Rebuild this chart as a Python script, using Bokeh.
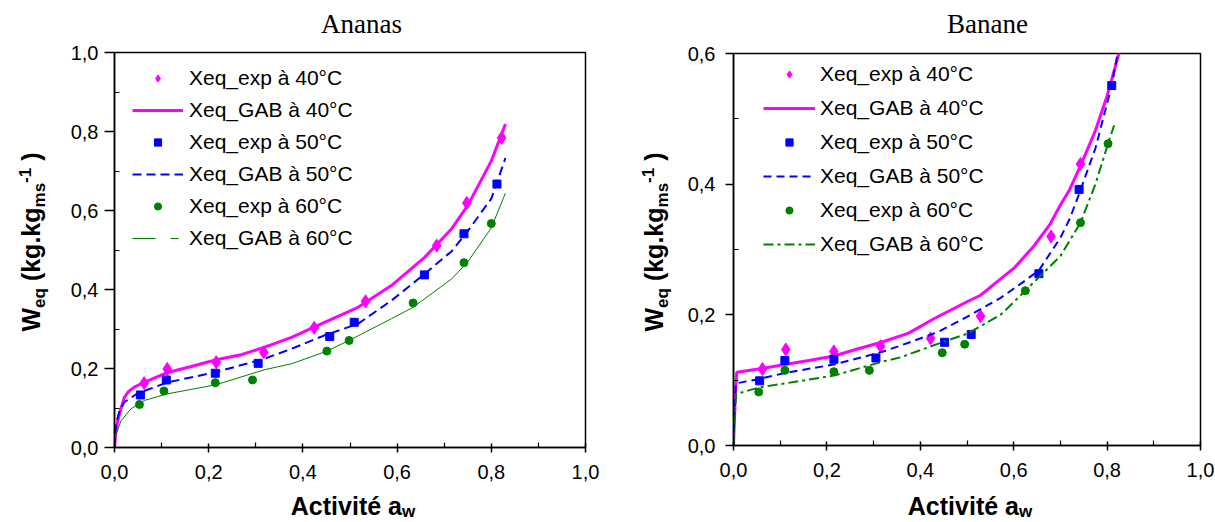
import math
from bokeh.plotting import figure
from bokeh.layouts import row, column
from bokeh.models import (Range1d, FixedTicker, CustomJSTickFormatter, Legend,
                          LegendItem, Label)
from bokeh.embed import file_html
from bokeh.resources import INLINE

# ---------------- data : Ananas ----------------
ana_aw_exp40 = [0.063, 0.112, 0.216, 0.317, 0.424, 0.533, 0.684, 0.748, 0.822]
ana_w_exp40 = [0.163, 0.199, 0.216, 0.241, 0.303, 0.370, 0.511, 0.619, 0.784]
ana_aw_exp50 = [0.055, 0.110, 0.214, 0.305, 0.457, 0.509, 0.658, 0.742, 0.812]
ana_w_exp50 = [0.133, 0.171, 0.188, 0.213, 0.281, 0.317, 0.437, 0.541, 0.667]
ana_aw_exp60 = [0.053, 0.105, 0.214, 0.293, 0.451, 0.498, 0.634, 0.742, 0.800]
ana_w_exp60 = [0.109, 0.143, 0.164, 0.171, 0.244, 0.271, 0.366, 0.468, 0.567]

ana_aw_gab40 = [0.0, 0.003, 0.007, 0.014, 0.021, 0.030, 0.042, 0.063, 0.113, 0.163, 0.216,
                0.269, 0.319, 0.376, 0.446, 0.517, 0.588, 0.659, 0.716, 0.750, 0.800, 0.830]
ana_w_gab40 = [0.0, 0.040, 0.068, 0.100, 0.127, 0.142, 0.153, 0.165, 0.190, 0.205, 0.222,
               0.235, 0.254, 0.279, 0.317, 0.355, 0.410, 0.482, 0.554, 0.613, 0.725, 0.819]
ana_aw_gab50 = [0.0, 0.003, 0.010, 0.021, 0.049, 0.113, 0.216, 0.319, 0.376, 0.446, 0.517,
                0.588, 0.659, 0.716, 0.750, 0.800, 0.830]
ana_w_gab50 = [0.0, 0.060, 0.090, 0.115, 0.137, 0.165, 0.191, 0.225, 0.250, 0.284, 0.313,
               0.372, 0.440, 0.497, 0.548, 0.630, 0.733]
ana_aw_gab60 = [0.0, 0.001, 0.014, 0.035, 0.063, 0.113, 0.216, 0.319, 0.376, 0.451, 0.498,
                0.588, 0.634, 0.659, 0.716, 0.750, 0.800, 0.830]
ana_w_gab60 = [0.0, 0.026, 0.068, 0.098, 0.119, 0.136, 0.159, 0.197, 0.212, 0.244, 0.271,
               0.326, 0.355, 0.377, 0.427, 0.470, 0.556, 0.644]

# ---------------- data : Banane ----------------
ban_aw_exp40 = [0.062, 0.112, 0.215, 0.315, 0.422, 0.529, 0.680, 0.743]
ban_w_exp40 = [0.117, 0.147, 0.144, 0.152, 0.164, 0.198, 0.320, 0.431]
ban_aw_exp50 = [0.056, 0.110, 0.215, 0.305, 0.452, 0.509, 0.654, 0.740, 0.810]
ban_w_exp50 = [0.099, 0.130, 0.132, 0.134, 0.158, 0.170, 0.263, 0.392, 0.551]
ban_aw_exp60 = [0.054, 0.110, 0.215, 0.291, 0.447, 0.495, 0.625, 0.743, 0.802]
ban_w_exp60 = [0.082, 0.115, 0.113, 0.115, 0.142, 0.155, 0.237, 0.341, 0.462]

ban_aw_gab40 = [0.0, 0.002, 0.004, 0.007, 0.061, 0.110, 0.161, 0.215, 0.267, 0.317, 0.375,
                0.429, 0.500, 0.529, 0.572, 0.600, 0.643, 0.678, 0.700, 0.720, 0.743, 0.775,
                0.800, 0.830]
ban_w_gab40 = [0.0, 0.040, 0.080, 0.112, 0.118, 0.124, 0.130, 0.137, 0.148, 0.158, 0.172,
               0.194, 0.220, 0.230, 0.255, 0.271, 0.305, 0.339, 0.368, 0.392, 0.428, 0.482,
               0.535, 0.612]
ban_aw_gab50 = [0.0, 0.002, 0.005, 0.056, 0.110, 0.215, 0.317, 0.358, 0.439, 0.500, 0.572,
                0.620, 0.654, 0.700, 0.720, 0.740, 0.775, 0.810, 0.825]
ban_w_gab50 = [0.0, 0.050, 0.095, 0.102, 0.111, 0.124, 0.143, 0.153, 0.174, 0.197, 0.226,
               0.250, 0.268, 0.318, 0.347, 0.385, 0.455, 0.551, 0.610]
ban_aw_gab60 = [0.0, 0.002, 0.006, 0.056, 0.110, 0.215, 0.317, 0.358, 0.439, 0.500, 0.572,
                0.625, 0.700, 0.743, 0.775, 0.802, 0.815]
ban_w_gab60 = [0.0, 0.040, 0.079, 0.089, 0.095, 0.107, 0.128, 0.135, 0.156, 0.171, 0.200,
               0.237, 0.290, 0.341, 0.400, 0.462, 0.490]

x_ticks = [0.0, 0.2, 0.4, 0.6, 0.8, 1.0]
x_minor = [0.1, 0.3, 0.5, 0.7, 0.9]
ana_y_ticks = [0.0, 0.2, 0.4, 0.6, 0.8, 1.0]
ana_y_minor = [0.1, 0.3, 0.5, 0.7, 0.9]
ban_y_ticks = [0.0, 0.2, 0.4, 0.6]
ban_y_minor = [0.1, 0.3, 0.5]

legend_labels = ["Xeq_exp à 40°C", "Xeq_GAB à 40°C", "Xeq_exp à 50°C",
                 "Xeq_GAB à 50°C", "Xeq_exp à 60°C", "Xeq_GAB à 60°C"]
titles = ["Ananas", "Banane"]

MAGENTA = "#FF00FF"
BLUE = "#0000FF"
GREEN = "#008000"
SANS = "Liberation Sans"
SERIF = "Liberation Serif"

# Arial/Liberation Sans Bold advance widths (per 1000 em)
BOLD_W = {'W': 944, 'e': 556, 'q': 611, ' ': 278, '(': 333, ')': 333, 'k': 556, 'g': 611,
          '.': 278, 'm': 889, 's': 556, '-': 333, '1': 556, 'A': 722, 'c': 556, 't': 333,
          'i': 278, 'v': 556, 'é': 556, 'a': 556, 'w': 778}


def tw(text, size):
    return sum(BOLD_W.get(ch, 556) for ch in text) * size / 1000.0


FMT = "return tick.toFixed(1).replace('.', ',');"
H_TOP = 40      # title strip height
H_BOT = 32      # x-label strip height
H_MAIN = 522 - H_TOP - H_BOT
BASE_K = 0.44   # correction: label anchor -> alphabetic baseline


def text_fig(w, h, fl=0, fr=0):
    """Blank figure whose data units are its own pixels (y downwards)."""
    f = figure(width=w, height=h, output_backend="svg", toolbar_location=None,
               x_range=Range1d(fl, w - fr), y_range=Range1d(h, 0),
               min_border_left=fl, min_border_right=fr, min_border_top=0,
               min_border_bottom=0, x_axis_location=None, y_axis_location=None,
               title=None)
    f.grid.visible = False
    f.outline_line_color = None
    f.background_fill_color = "white"
    f.border_fill_color = "white"
    return f


def add_label(f, x, y, text, size, bold=True, font=SANS, angle=0.0, align="left"):
    f.add_layout(Label(x=x, y=y, x_units="data", y_units="data", text=text,
                       text_font=font, text_font_size=f"{size}px",
                       text_font_style="bold" if bold else "normal",
                       text_color="black", angle=angle, text_align=align,
                       text_baseline="alphabetic"))


def make_plot(width, ymax, yt, ym, fl, fw, ft, fh, y_out, y_standoff):
    p = figure(width=width, height=H_MAIN, output_backend="svg", toolbar_location=None,
               x_range=Range1d(0, 1), y_range=Range1d(0, ymax), title=None,
               min_border_left=fl, min_border_right=width - fl - fw,
               min_border_top=ft, min_border_bottom=H_MAIN - ft - fh)
    p.grid.visible = False
    p.outline_line_color = "black"
    p.outline_line_width = 1.5
    p.background_fill_color = "white"
    p.border_fill_color = "white"
    xa = p.xaxis[0]
    ya = p.yaxis[0]
    xa.ticker = FixedTicker(ticks=x_ticks, minor_ticks=x_minor)
    ya.ticker = FixedTicker(ticks=yt, minor_ticks=ym)
    for ax in (xa, ya):
        ax.formatter = CustomJSTickFormatter(code=FMT)
        ax.axis_line_width = 1.5
        ax.axis_line_color = "black"
        ax.major_tick_line_width = 1.5
        ax.minor_tick_line_width = 1.2
        ax.major_tick_line_color = "black"
        ax.minor_tick_line_color = "black"
        ax.minor_tick_in = 5
        ax.minor_tick_out = 0
        ax.major_label_text_font = SANS
        ax.major_label_text_font_size = "20px"
        ax.major_label_text_color = "black"
    xa.major_tick_out = 5
    xa.major_tick_in = 4
    xa.major_label_standoff = 12
    ya.major_tick_out = y_out
    ya.major_tick_in = 0
    ya.major_label_standoff = y_standoff
    return p


def add_series(p, exp, gab, dash50, dash60, w60, legend_proxy_dash=None):
    r = []
    r.append(p.scatter(exp[0][0], exp[0][1], marker="diamond", size=13,
                       fill_color=MAGENTA, line_color=MAGENTA))
    r.append(p.line(gab[0][0], gab[0][1], line_color=MAGENTA, line_width=3))
    r.append(p.scatter(exp[1][0], exp[1][1], marker="square", size=8,
                       fill_color=BLUE, line_color=BLUE))
    r.append(p.line(gab[1][0], gab[1][1], line_color=BLUE, line_width=2, line_dash=dash50))
    r.append(p.scatter(exp[2][0], exp[2][1], marker="circle", size=8,
                       fill_color=GREEN, line_color=GREEN))
    g60 = p.line(gab[2][0], gab[2][1], line_color=GREEN, line_width=w60, line_dash=dash60)
    if legend_proxy_dash is not None:
        # legend-only sample with the dash pattern shown in the key
        g60 = p.line(gab[2][0][:1], gab[2][1][:1], line_color=GREEN, line_width=w60,
                     line_dash=legend_proxy_dash)
    r.append(g60)
    return r


def add_legend(p, rends, loc, spacing, glyph_w, standoff):
    items = [LegendItem(label=lab, renderers=[rr]) for lab, rr in zip(legend_labels, rends)]
    leg = Legend(items=items, location=loc, border_line_color=None,
                 background_fill_alpha=0.0, padding=0, margin=0, spacing=spacing,
                 glyph_width=glyph_w, glyph_height=18, label_height=24,
                 label_standoff=standoff, label_text_font=SANS,
                 label_text_font_size="21px", label_text_color="black")
    p.add_layout(leg)


def ylabel_fig(w, base_x, start_y):
    f = text_fig(w, 522)
    # (text, font size, baseline shift towards the bottom of the letters, space before)
    pieces = [("W", 25, 0, 0), ("eq", 17, 5, 0), ("(kg.kg", 25, 0, 1), ("ms", 17, 5, 0),
              ("-1", 17, -9, 0), (")", 25, 0, 1)]
    cy = start_y
    for text, size, shift, space in pieces:
        cy -= space * tw(" ", size)
        add_label(f, base_x + shift - BASE_K * size, cy, text, size, angle=math.pi / 2)
        cy -= tw(text, size)
    return f


def xlabel_fig(w, fl, fr, center_x):
    f = text_fig(w, H_BOT, fl, fr)
    main, sub = "Activité a", "w"
    total = tw(main, 25) + tw(sub, 17)
    sx = center_x - total / 2
    add_label(f, sx, 26 - BASE_K * 25, main, 25)
    add_label(f, sx + tw(main, 25), 28 - BASE_K * 17, sub, 17)
    return f


def title_fig(w, fl, fr, cx, text):
    f = text_fig(w, H_TOP, fl, fr)
    add_label(f, cx, 35 - BASE_K * 27, text, 27, bold=False, font=SERIF, align="center")
    return f


# ---------------- left block : Ananas (canvas x 0..610) ----------------
YW1 = 62                       # width of y-label strip
MW1 = 610 - YW1                # main figure width
FL1 = 114 - YW1                # frame left inside main figure
FR1 = MW1 - FL1 - 471
p1 = make_plot(MW1, 1.0, ana_y_ticks, ana_y_minor, FL1, 471, 52 - H_TOP, 395, 10, 6)
r1 = add_series(p1,
                [(ana_aw_exp40, ana_w_exp40), (ana_aw_exp50, ana_w_exp50), (ana_aw_exp60, ana_w_exp60)],
                [(ana_aw_gab40, ana_w_gab40), (ana_aw_gab50, ana_w_gab50), (ana_aw_gab60, ana_w_gab60)],
                "9 5", "solid", 1, legend_proxy_dash="23 15 8 20")
add_legend(p1, r1, (18, 197), 8, 51, 6)
left = row(ylabel_fig(YW1, 41, 331),
           column(title_fig(MW1, FL1, FR1, 361 - YW1, titles[0]), p1,
                  xlabel_fig(MW1, FL1, FR1, FL1 + 471 / 2 + 3), spacing=0),
           spacing=0)

# ---------------- right block : Banane (canvas x 610..1215) ----------------
YW2 = 70
MW2 = 605 - YW2
FL2 = 733 - 610 - YW2
FR2 = MW2 - FL2 - 467
p2 = make_plot(MW2, 0.6, ban_y_ticks, ban_y_minor, FL2, 467, 53 - H_TOP, 392, 8, 10)
r2 = add_series(p2,
                [(ban_aw_exp40, ban_w_exp40), (ban_aw_exp50, ban_w_exp50), (ban_aw_exp60, ban_w_exp60)],
                [(ban_aw_gab40, ban_w_gab40), (ban_aw_gab50, ban_w_gab50), (ban_aw_gab60, ban_w_gab60)],
                "8 5", "10 4 3 4", 2)
add_legend(p2, r2, (30, 189), 10, 52, 5)
right = row(ylabel_fig(YW2, 664 - 610, 331),
            column(title_fig(MW2, FL2, FR2, 987 - 610 - YW2, titles[1]), p2,
                   xlabel_fig(MW2, FL2, FR2, FL2 + 467 / 2 + 3), spacing=0),
            spacing=0)

layout = row(left, right, spacing=0)
open("out.html", "w").write(file_html(layout, INLINE))
